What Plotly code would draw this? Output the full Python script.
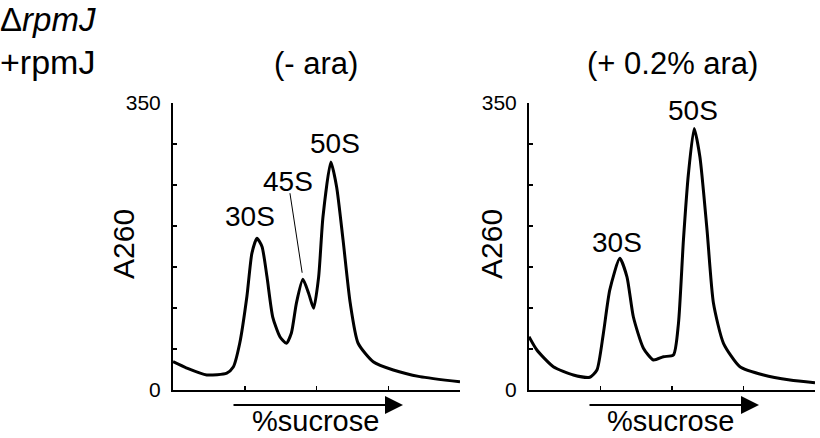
import plotly.graph_objects as go

W, H = 820, 438

# ---- data ----
left_x = [0.0, 0.19, 0.47, 0.75, 0.84, 0.93, 1.03, 1.10, 1.17, 1.24, 1.31, 1.39, 1.49, 1.58,
          1.65, 1.72, 1.81, 1.89, 1.96, 2.03, 2.09, 2.20, 2.28, 2.37, 2.47, 2.58, 2.79, 3.07,
          3.44, 4.0]
left_y = [34.5, 26.8, 18.3, 20.7, 28, 57, 114, 167, 185, 175, 138, 89, 65, 57,
          69.5, 106, 135, 118, 99.6, 138, 211, 278, 248, 183, 106, 57, 34.5, 24.4,
          16.3, 10]

right_x = [0.0, 0.11, 0.34, 0.62, 0.85, 0.95, 1.04, 1.13, 1.27, 1.37, 1.46, 1.60, 1.74, 1.88,
           2.02, 2.09, 2.16, 2.23, 2.31, 2.39, 2.49, 2.58, 2.72, 2.95, 3.28, 3.65, 4.0]
right_y = [65, 48.8, 28.4, 18.3, 15.5, 24.4, 69, 122, 160.6, 138, 89, 51, 36.6, 40.6,
           42.7, 81, 183, 264, 319, 284.5, 195, 105.7, 57, 28.4, 18.3, 12.2, 8.9]

y_tickvals = [0, 50, 100, 150, 200, 250, 300, 350]
y_ticktext = ["0", "", "", "", "", "", "", "350"]
x_tickvals = [1, 2, 3]

left_peaks = [("30S", 1.07, 211), ("45S", 1.60, 254), ("50S", 2.26, 301)]
right_peaks = [("30S", 1.23, 180), ("50S", 2.29, 341)]

FONT = "Arial, Liberation Sans, sans-serif"


def px(x):
    return x / W


def py(y):
    return 1 - y / H


fig = go.Figure()
fig.add_trace(go.Scatter(x=left_x, y=left_y, mode="lines", xaxis="x", yaxis="y",
                         line=dict(color="black", width=3, shape="spline", smoothing=0.6),
                         showlegend=False, hoverinfo="skip"))
fig.add_trace(go.Scatter(x=right_x, y=right_y, mode="lines", xaxis="x2", yaxis="y2",
                         line=dict(color="black", width=3, shape="spline", smoothing=0.6),
                         showlegend=False, hoverinfo="skip"))

ydom = [py(390), py(103)]
xaxis_common = dict(range=[0, 4], showline=True, linecolor="black", linewidth=2,
                    ticks="inside", ticklen=4, tickwidth=1.5, tickcolor="black",
                    tickvals=x_tickvals, showticklabels=False, showgrid=False,
                    zeroline=False, fixedrange=True, automargin=False)
yaxis_common = dict(range=[0, 350], showline=True, linecolor="black", linewidth=2,
                    ticks="inside", ticklen=4, tickwidth=1.5, tickcolor="black",
                    tickvals=y_tickvals, ticktext=y_ticktext, showgrid=False,
                    zeroline=False, tickfont=dict(family=FONT, size=21, color="black"),
                    ticklabelstandoff=6, fixedrange=True, domain=ydom, automargin=False)

fig.update_layout(
    template="none",
    width=W, height=H, margin=dict(l=0, r=0, t=0, b=0, pad=0, autoexpand=False),
    paper_bgcolor="white", plot_bgcolor="white",
    xaxis=dict(domain=[px(173), px(460)], anchor="y", **xaxis_common),
    yaxis=dict(anchor="x", **yaxis_common),
    xaxis2=dict(domain=[px(529), px(815)], anchor="y2", **xaxis_common),
    yaxis2=dict(anchor="x2", **yaxis_common),
    font=dict(family=FONT, color="black"),
)

ann = []
# Top-left label
ann.append(dict(x=0, y=1, xref="paper", yref="paper", xanchor="left", yanchor="top",
                text="Δ<i>rpmJ</i>", showarrow=False, font=dict(size=33), xshift=-1,
                borderpad=0))
ann.append(dict(x=0, y=py(62), xref="paper", yref="paper", xanchor="left", yanchor="middle",
                text="+rpmJ", showarrow=False, font=dict(size=34), xshift=-1, borderpad=0))
ann.append(dict(x=px(316), y=py(63), xref="paper", yref="paper", xanchor="center", yanchor="middle",
                text="(- ara)", showarrow=False, font=dict(size=31)))
ann.append(dict(x=px(672), y=py(63), xref="paper", yref="paper", xanchor="center", yanchor="middle",
                text="(+ 0.2% ara)", showarrow=False, font=dict(size=31)))
# axis titles
for xc in (123, 491):
    ann.append(dict(x=px(xc), y=py(244), xref="paper", yref="paper", xanchor="center",
                    yanchor="middle", text="A260", textangle=-90, showarrow=False,
                    font=dict(size=30)))
for xc in (315, 670):
    ann.append(dict(x=px(xc), y=0, xref="paper", yref="paper", xanchor="center",
                    yanchor="bottom", text="%sucrose", showarrow=False, font=dict(size=29),
                    borderpad=0))
# arrows
for x0, x1 in ((232, 403), (588, 759)):
    ann.append(dict(x=px(x1), y=py(405), xref="paper", yref="paper", ax=x0 - x1, ay=0,
                    axref="pixel", ayref="pixel", text="", showarrow=True, arrowhead=2,
                    arrowsize=1.8, arrowwidth=2, arrowcolor="black"))
# peak labels
for t, x, y in left_peaks:
    ann.append(dict(x=x, y=y, xref="x", yref="y", text=t, showarrow=False,
                    xanchor="center", yanchor="middle", font=dict(size=28)))
for t, x, y in right_peaks:
    ann.append(dict(x=x, y=y, xref="x2", yref="y2", text=t, showarrow=False,
                    xanchor="center", yanchor="middle", font=dict(size=28)))
fig.update_layout(annotations=ann)

# leader line for 45S
fig.add_shape(type="line", xref="x", yref="y", x0=1.63, y0=240, x1=1.80, y1=143,
              line=dict(color="black", width=1))

fig.write_html("out.html",
               config={"displayModeBar": False, "staticPlot": True},
               post_script="document.body.style.margin='0px';"
                           "document.body.style.overflow='hidden';")
